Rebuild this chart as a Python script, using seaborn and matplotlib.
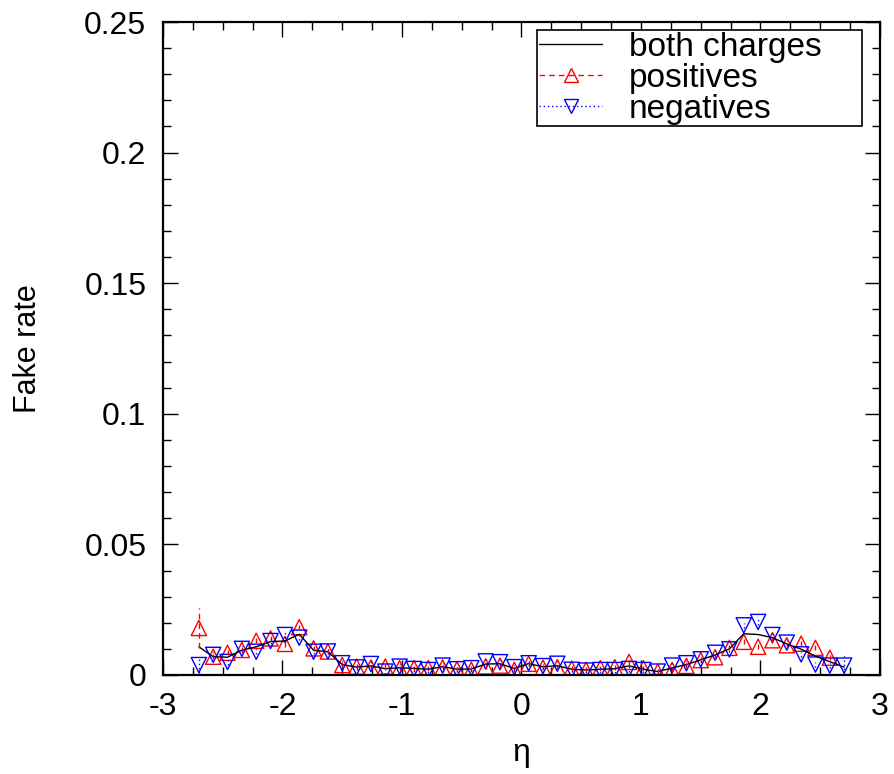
import numpy as np
import pandas as pd
import matplotlib
matplotlib.use("Agg")
import matplotlib.pyplot as plt
from matplotlib.lines import Line2D
from matplotlib.ticker import MultipleLocator
import seaborn as sns

eta = [round(-2.7 + 0.12 * i, 2) for i in range(46)]

both = [0.0108, 0.0070, 0.0068, 0.0095, 0.0108, 0.0128, 0.0130, 0.0156, 0.0095, 0.0089,
        0.0040, 0.0030, 0.0035, 0.0024, 0.0028, 0.0025, 0.0022, 0.0032, 0.0022, 0.0023,
        0.0042, 0.0043, 0.0025, 0.0044, 0.0031, 0.0036, 0.0022, 0.0019, 0.0022, 0.0024,
        0.0035, 0.0022, 0.0013, 0.0027, 0.0040, 0.0058, 0.0077, 0.0100, 0.0158, 0.0155,
        0.0143, 0.0119, 0.0099, 0.0072, 0.0051, 0.0030]

positives = [0.0180, 0.0070, 0.0085, 0.0096, 0.0131, 0.0140, 0.0119, 0.0183, 0.0102, 0.0090,
             0.0038, 0.0032, 0.0029, 0.0032, 0.0026, 0.0026, 0.0026, 0.0029, 0.0022, 0.0020,
             0.0033, 0.0036, 0.0020, 0.0043, 0.0028, 0.0030, 0.0024, 0.0020, 0.0026, 0.0030,
             0.0050, 0.0026, 0.0013, 0.0019, 0.0035, 0.0057, 0.0068, 0.0104, 0.0127, 0.0108,
             0.0133, 0.0114, 0.0120, 0.0104, 0.0066, np.nan]

negatives = [0.0038, 0.0077, 0.0050, 0.0100, 0.0089, 0.0130, 0.0153, 0.0143, 0.0089, 0.0090,
             0.0045, 0.0029, 0.0042, 0.0013, 0.0032, 0.0023, 0.0019, 0.0036, 0.0022, 0.0026,
             0.0052, 0.0049, 0.0030, 0.0045, 0.0034, 0.0043, 0.0020, 0.0017, 0.0019, 0.0019,
             0.0023, 0.0019, 0.0013, 0.0036, 0.0045, 0.0060, 0.0085, 0.0098, 0.0190, 0.0203,
             0.0153, 0.0124, 0.0079, 0.0040, 0.0036, 0.0036]

pos_err = [0.0077] + [0.0010] * 44 + [np.nan]
neg_err = [0.0030] + [0.0010] * 44 + [0.0046]

x_ticks = [-3, -2, -1, 0, 1, 2, 3]
y_ticks = [0, 0.05, 0.1, 0.15, 0.2, 0.25]
y_tick_labels = ["0", "0.05", "0.1", "0.15", "0.2", "0.25"]
legend_labels = ["both charges", "positives", "negatives"]

df = pd.DataFrame({"eta": eta, "both": both, "positives": positives, "negatives": negatives})

sns.set_style("ticks")
plt.rcParams["font.family"] = ["Liberation Sans", "DejaVu Sans"]
plt.rcParams["text.color"] = "black"
plt.rcParams["axes.labelcolor"] = "black"
plt.rcParams["xtick.color"] = "black"
plt.rcParams["ytick.color"] = "black"

fig = plt.figure(figsize=(8.95, 7.74), dpi=100)
ax = fig.add_axes([163 / 895, 1 - 675 / 774, 717 / 895, 653 / 774])

sns.lineplot(data=df, x="eta", y="both", ax=ax, color="black", linewidth=1.0, legend=False)

eb = ax.errorbar(eta, positives, yerr=pos_err, fmt="none", ecolor="red", elinewidth=1.0)
eb[2][0].set_linestyle((0, (4, 3)))
eb2 = ax.errorbar(eta, negatives, yerr=neg_err, fmt="none", ecolor="blue", elinewidth=1.0)
eb2[2][0].set_linestyle((0, (1, 2)))

sns.scatterplot(data=df, x="eta", y="positives", ax=ax, marker="^", s=120,
                facecolors="none", edgecolor="red", linewidth=1.0, legend=False)
sns.scatterplot(data=df, x="eta", y="negatives", ax=ax, marker="v", s=120,
                facecolors="none", edgecolor="blue", linewidth=1.0, legend=False)

ax.set_xlim(-3, 3)
ax.set_ylim(0, 0.25)
ax.set_xticks(x_ticks)
ax.set_xticklabels([str(t) for t in x_ticks])
ax.set_yticks(y_ticks)
ax.set_yticklabels(y_tick_labels)
ax.xaxis.set_minor_locator(MultipleLocator(0.25))
ax.yaxis.set_minor_locator(MultipleLocator(0.01))
ax.tick_params(which="both", direction="in", top=True, right=True, color="black", width=1.0)
ax.tick_params(which="major", length=11, labelsize=23, pad=12)
ax.tick_params(which="minor", length=5.5)
for s in ax.spines.values():
    s.set_linewidth(1.6)
    s.set_color("black")

ax.set_xlabel("η", fontsize=23, labelpad=12)
ax.set_ylabel("Fake rate", fontsize=22, labelpad=30)

handles = [
    Line2D([], [], color="black", linewidth=1.0),
    Line2D([], [], color="red", linestyle=(0, (4, 3)), linewidth=1.0, marker="^",
           markerfacecolor="none", markeredgecolor="red", markersize=10),
    Line2D([], [], color="blue", linestyle=(0, (1, 2)), linewidth=1.0, marker="v",
           markerfacecolor="none", markeredgecolor="blue", markersize=10),
]
leg = ax.legend(handles, legend_labels,
                loc="upper left", bbox_to_anchor=(0.522, 0.838, 0.453, 0.15), mode="expand",
                fontsize=24, frameon=True, fancybox=False, framealpha=1,
                handlelength=1.9, handletextpad=0.8, borderpad=0.05, borderaxespad=0,
                labelspacing=0.0)
leg.get_frame().set_edgecolor("black")
leg.get_frame().set_linewidth(1.2)

fig.savefig("out.png", dpi=100)
